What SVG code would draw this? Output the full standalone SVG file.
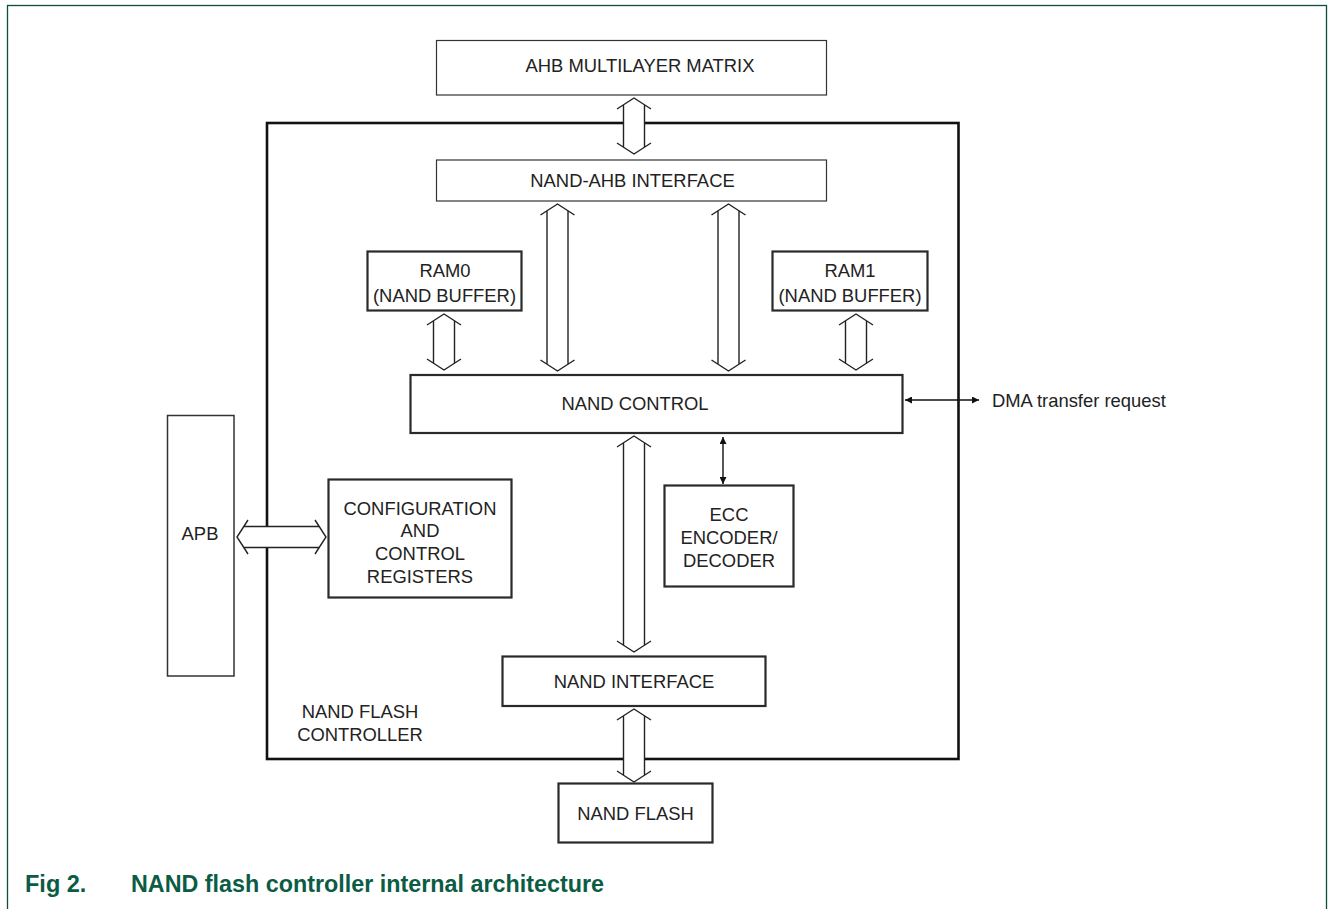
<svg xmlns="http://www.w3.org/2000/svg" width="1328" height="909" viewBox="0 0 1328 909">
<defs>
<style>
.t{font-family:"Liberation Sans",Arial,sans-serif;font-size:18.4px;fill:#222;text-anchor:middle}
.thin{fill:#fff;stroke:#333;stroke-width:1.2}
.box{fill:#fff;stroke:#2a2a2a;stroke-width:2.2}
.dw{fill:#fff;stroke:none}
.dl{fill:none;stroke:#222;stroke-width:1.4}
.sl{fill:none;stroke:#111;stroke-width:1.4;marker-start:url(#ah);marker-end:url(#ah)}
.cap{font-family:"Liberation Sans",Arial,sans-serif;font-weight:bold;font-size:23.5px;fill:#0b5c45}
</style>
<marker id="ah" viewBox="0 0 10 10" refX="10" refY="5" markerWidth="7" markerHeight="7" markerUnits="userSpaceOnUse" orient="auto-start-reverse">
<path d="M0,0 L10,5 L0,10 z" fill="#111"/>
</marker>
</defs>
<rect x="7.5" y="5.5" width="1319" height="930" fill="none" stroke="#0d4d3f" stroke-width="1.3"/>
<g id="controller">
<rect x="267" y="123" width="691.5" height="636" fill="none" stroke="#111" stroke-width="2.6"/>
<text class="t" x="360" y="718">NAND FLASH</text>
<text class="t" x="360" y="741">CONTROLLER</text>
</g>
<g id="connectors">
<polygon class="dw" points="634,98 644.5,104.8 644.5,147.2 634,154 623.5,147.2 623.5,104.8"/>
<path class="dl" d="M617,109 L634,98 L651,109 M623.5,104.8 V147.2 M644.5,104.8 V147.2 M617,143 L634,154 L651,143"/>
<polygon class="dw" points="557.5,204 568,210.8 568,364.2 557.5,371 547,364.2 547,210.8"/>
<path class="dl" d="M540.5,215 L557.5,204 L574.5,215 M547,210.8 V364.2 M568,210.8 V364.2 M540.5,360 L557.5,371 L574.5,360"/>
<polygon class="dw" points="728.5,204 739,210.8 739,364.2 728.5,371 718,364.2 718,210.8"/>
<path class="dl" d="M711.5,215 L728.5,204 L745.5,215 M718,210.8 V364.2 M739,210.8 V364.2 M711.5,360 L728.5,371 L745.5,360"/>
<polygon class="dw" points="444,314 454.5,320.8 454.5,363.2 444,370 433.5,363.2 433.5,320.8"/>
<path class="dl" d="M427,325 L444,314 L461,325 M433.5,320.8 V363.2 M454.5,320.8 V363.2 M427,359 L444,370 L461,359"/>
<polygon class="dw" points="856,314 866.5,320.8 866.5,363.2 856,370 845.5,363.2 845.5,320.8"/>
<path class="dl" d="M839,325 L856,314 L873,325 M845.5,320.8 V363.2 M866.5,320.8 V363.2 M839,359 L856,370 L873,359"/>
<polygon class="dw" points="634,436 644.5,442.8 644.5,645.2 634,652 623.5,645.2 623.5,442.8"/>
<path class="dl" d="M617,447 L634,436 L651,447 M623.5,442.8 V645.2 M644.5,442.8 V645.2 M617,641 L634,652 L651,641"/>
<polygon class="dw" points="634,709 644.5,715.8 644.5,775.2 634,782 623.5,775.2 623.5,715.8"/>
<path class="dl" d="M617,720 L634,709 L651,720 M623.5,715.8 V775.2 M644.5,715.8 V775.2 M617,771 L634,782 L651,771"/>
<polygon class="dw" points="237,537 243.8,526.5 319.2,526.5 326,537 319.2,547.5 243.8,547.5"/>
<path class="dl" d="M248,520 L237,537 L248,554 M243.8,526.5 H319.2 M243.8,547.5 H319.2 M315,520 L326,537 L315,554"/>
<line class="sl" x1="905" y1="400" x2="979" y2="400"/>
<line class="sl" x1="723" y1="437" x2="723" y2="484"/>
</g>
<g id="ahb-matrix">
<rect class="thin" x="436.5" y="40.5" width="390" height="54.5"/>
<text class="t" x="640" y="72">AHB MULTILAYER MATRIX</text>
</g>
<g id="nand-ahb">
<rect class="thin" x="436.5" y="160" width="390" height="41"/>
<text class="t" x="632.5" y="187">NAND-AHB INTERFACE</text>
</g>
<g id="ram0">
<rect class="box" x="367.5" y="251.5" width="154" height="59"/>
<text class="t" x="445" y="277">RAM0</text>
<text class="t" x="444.5" y="302">(NAND BUFFER)</text>
</g>
<g id="ram1">
<rect class="box" x="772.5" y="251.5" width="155" height="59"/>
<text class="t" x="850" y="277">RAM1</text>
<text class="t" x="850" y="302">(NAND BUFFER)</text>
</g>
<g id="nand-control">
<rect class="box" x="410.5" y="375" width="492" height="58"/>
<text class="t" x="635" y="410">NAND CONTROL</text>
</g>
<g id="dma">
<text class="t" x="992" y="407" style="text-anchor:start">DMA transfer request</text>
</g>
<g id="apb">
<rect x="167.5" y="415.5" width="66.5" height="260.5" fill="#fff" stroke="#333" stroke-width="1.5"/>
<text class="t" x="200" y="540">APB</text>
</g>
<g id="config">
<rect class="box" x="328.5" y="479.5" width="183" height="118"/>
<text class="t" x="420" y="515">CONFIGURATION</text>
<text class="t" x="420" y="537">AND</text>
<text class="t" x="420" y="560">CONTROL</text>
<text class="t" x="420" y="583">REGISTERS</text>
</g>
<g id="ecc">
<rect class="box" x="664.5" y="485.5" width="129" height="101"/>
<text class="t" x="729" y="521">ECC</text>
<text class="t" x="729" y="544">ENCODER/</text>
<text class="t" x="729" y="567">DECODER</text>
</g>
<g id="nand-interface">
<rect class="box" x="502.5" y="656.5" width="263" height="49.5"/>
<text class="t" x="634" y="688">NAND INTERFACE</text>
</g>
<g id="nand-flash">
<rect class="box" x="558.5" y="783.5" width="154" height="59"/>
<text class="t" x="635.5" y="820">NAND FLASH</text>
</g>
<g id="caption">
<text class="cap" x="25" y="892">Fig 2.</text>
<text class="cap" x="131" y="892" textLength="473" lengthAdjust="spacingAndGlyphs">NAND flash controller internal architecture</text>
</g>
</svg>
